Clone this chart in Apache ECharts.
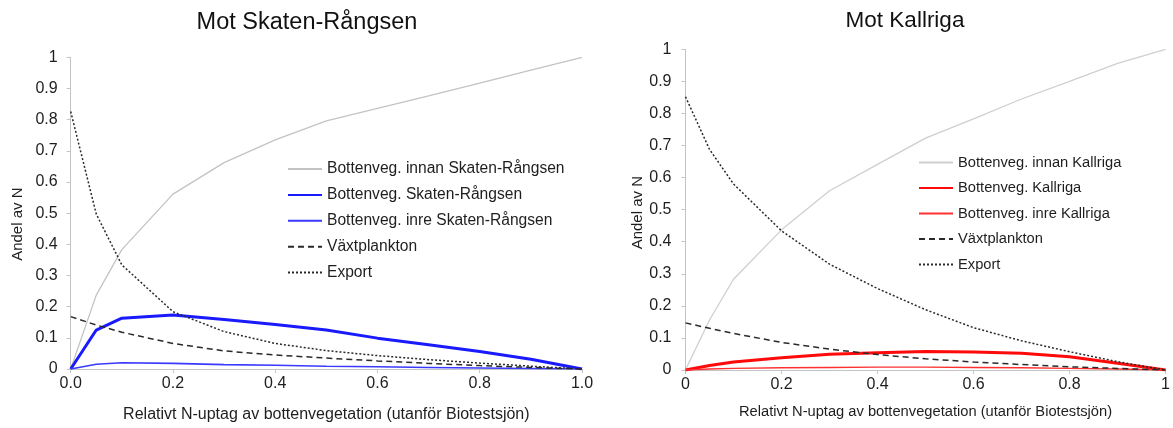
<!DOCTYPE html>
<html>
<head>
<meta charset="utf-8">
<title>Andel av N</title>
<script src="https://cdn.jsdelivr.net/npm/echarts@6/dist/echarts.min.js"></script>
<style>
  html, body { margin: 0; padding: 0; background: #fff; }
  #chart { width: 1173px; height: 428px; }
</style>
</head>
<body>
<div id="chart"></div>
<script>
// Relative N uptake by bottom vegetation (x) for both panels
const xSkaten = [0, 0.05, 0.1, 0.2, 0.3, 0.4, 0.5, 0.6, 0.7, 0.8, 0.9, 1.0];
const xKallriga = [0, 0.05, 0.1, 0.2, 0.3, 0.4, 0.5, 0.6, 0.7, 0.8, 0.9, 1.0];
const xTicks = [0, 0.2, 0.4, 0.6, 0.8, 1.0];
const yTicks = [0, 0.1, 0.2, 0.3, 0.4, 0.5, 0.6, 0.7, 0.8, 0.9, 1];

// Mot Skaten-Rångsen
const skInnan = [0, 0.237, 0.383, 0.561, 0.662, 0.735, 0.796, 0.836, 0.876, 0.917, 0.959, 1.0];
const skBotten = [0, 0.125, 0.163, 0.173, 0.159, 0.143, 0.125, 0.099, 0.078, 0.056, 0.031, 0];
const skInre = [0, 0.015, 0.02, 0.018, 0.014, 0.012, 0.009, 0.007, 0.005, 0.003, 0.0015, 0];
const skVaxt = [0.168, 0.141, 0.118, 0.082, 0.058, 0.045, 0.035, 0.026, 0.018, 0.011, 0.005, 0];
const skExport = [0.826, 0.497, 0.334, 0.184, 0.12, 0.082, 0.059, 0.043, 0.03, 0.019, 0.009, 0];

// Mot Kallriga
const kaInnan = [0, 0.156, 0.283, 0.437, 0.559, 0.641, 0.723, 0.783, 0.845, 0.9, 0.956, 1.0];
const kaBotten = [0, 0.014, 0.025, 0.038, 0.049, 0.054, 0.058, 0.056, 0.052, 0.041, 0.021, 0];
const kaInre = [0, 0.003, 0.005, 0.007, 0.008, 0.009, 0.009, 0.008, 0.007, 0.005, 0.003, 0];
const kaVaxt = [0.147, 0.13, 0.114, 0.086, 0.065, 0.048, 0.035, 0.025, 0.017, 0.01, 0.005, 0];
const kaExport = [0.852, 0.688, 0.58, 0.434, 0.33, 0.254, 0.188, 0.132, 0.091, 0.057, 0.026, 0];

const FONT = 'Liberation Sans, Arial, sans-serif';
const AXIS_GRAY = '#c4c4c4';
const TEXT = '#1e1e1e';

const pairs = (xs, ys) => xs.map((x, i) => [x, ys[i]]);

function lineSeries(name, xs, ys, gridIdx, color, width, dash) {
  return {
    name: name,
    type: 'line',
    xAxisIndex: gridIdx,
    yAxisIndex: gridIdx,
    data: pairs(xs, ys),
    symbol: 'none',
    smooth: false,
    animation: false,
    lineStyle: { color: color, width: width, type: dash || 'solid' },
    itemStyle: { color: color }
  };
}

function xAxisFor(gridIdx, decimals, fontSize, nameGap) {
  return {
    gridIndex: gridIdx,
    type: 'value',
    min: xTicks[0],
    max: xTicks[xTicks.length - 1],
    interval: 0.2,
    name: 'Relativt N-uptag av bottenvegetation (utanför Biotestsjön)',
    nameLocation: 'middle',
    nameGap: nameGap,
    nameTextStyle: { fontFamily: FONT, fontSize: fontSize, color: TEXT },
    axisLine: { show: true, lineStyle: { color: AXIS_GRAY, width: 1 } },
    axisTick: { show: true, length: 4, inside: false, lineStyle: { color: AXIS_GRAY } },
    splitLine: { show: false },
    axisLabel: {
      fontFamily: FONT, fontSize: 16, color: TEXT, margin: 7,
      formatter: v => decimals ? v.toFixed(1) : String(+v.toFixed(1))
    }
  };
}

function yAxisFor(gridIdx, nameGap, labelMargin, nameShift) {
  return {
    gridIndex: gridIdx,
    type: 'value',
    min: yTicks[0],
    max: yTicks[yTicks.length - 1],
    interval: 0.1,
    name: 'Andel av N',
    nameLocation: 'middle',
    nameGap: nameGap,
    nameTextStyle: { fontFamily: FONT, fontSize: 15, color: TEXT, padding: [0, nameShift, 0, 0] },
    axisLine: { show: true, lineStyle: { color: AXIS_GRAY, width: 1 } },
    axisTick: { show: true, length: 4, lineStyle: { color: AXIS_GRAY } },
    splitLine: { show: false },
    axisLabel: {
      fontFamily: FONT, fontSize: 16, color: TEXT, margin: labelMargin,
      formatter: v => String(+v.toFixed(1))
    }
  };
}

const chart = echarts.init(document.getElementById('chart'), null, { renderer: 'canvas' });

const legendBase = {
  orient: 'vertical',
  padding: 0,
  itemWidth: 34,
  itemHeight: 14,
  // line-only legend keys: hide the marker drawn on top of each key line
  itemStyle: { opacity: 0 }
};

chart.setOption({
  backgroundColor: '#ffffff',
  animation: false,
  title: [
    {
      text: 'Mot Skaten-Rångsen',
      left: 302, top: 6, textAlign: 'center',
      textStyle: { fontFamily: FONT, fontSize: 23.5, fontWeight: 'normal', color: '#111' }
    },
    {
      text: 'Mot Kallriga',
      left: 900, top: 4, textAlign: 'center',
      textStyle: { fontFamily: FONT, fontSize: 22.5, fontWeight: 'normal', color: '#111' }
    }
  ],
  grid: [
    { left: 70.7, top: 57.3, width: 511.3, height: 311.7, containLabel: false },
    { left: 685.5, top: 49.3, width: 484.5, height: 320.7, containLabel: false }
  ],
  legend: [
    Object.assign({}, legendBase, {
      left: 287, top: 161, itemGap: 9.9,
      textStyle: { fontFamily: FONT, fontSize: 15.6, color: TEXT },
      data: ['Bottenveg. innan Skaten-Rångsen', 'Bottenveg. Skaten-Rångsen',
             'Bottenveg. inre Skaten-Rångsen', 'Växtplankton', 'Export']
    }),
    Object.assign({}, legendBase, {
      left: 918, top: 155, itemGap: 10.5,
      textStyle: { fontFamily: FONT, fontSize: 14.7, color: TEXT },
      data: ['Bottenveg. innan Kallriga', 'Bottenveg. Kallriga',
             'Bottenveg. inre Kallriga', 'Växtplankton ', 'Export ']
    })
  ],
  xAxis: [
    xAxisFor(0, true, 16, 38),
    xAxisFor(1, false, 14.7, 34)
  ],
  yAxis: [
    yAxisFor(0, 45, 13, 22),
    yAxisFor(1, 40, 14, 6)
  ],
  series: [
    lineSeries('Bottenveg. innan Skaten-Rångsen', xSkaten, skInnan, 0, '#c3c3c3', 1.3),
    lineSeries('Bottenveg. Skaten-Rångsen', xSkaten, skBotten, 0, '#1a1aff', 3),
    lineSeries('Bottenveg. inre Skaten-Rångsen', xSkaten, skInre, 0, '#3a3aff', 1.6),
    lineSeries('Växtplankton', xSkaten, skVaxt, 0, '#2a2a2a', 1.5, [6, 4]),
    lineSeries('Export', xSkaten, skExport, 0, '#2a2a2a', 1.5, [2, 2]),

    lineSeries('Bottenveg. innan Kallriga', xKallriga, kaInnan, 1, '#cfcfcf', 1.3),
    lineSeries('Bottenveg. Kallriga', xKallriga, kaBotten, 1, '#ff0a0a', 3),
    lineSeries('Bottenveg. inre Kallriga', xKallriga, kaInre, 1, '#ff3030', 1.4),
    lineSeries('Växtplankton ', xKallriga, kaVaxt, 1, '#2a2a2a', 1.5, [6, 4]),
    lineSeries('Export ', xKallriga, kaExport, 1, '#2a2a2a', 1.5, [2, 2])
  ]
});
</script>
</body>
</html>
